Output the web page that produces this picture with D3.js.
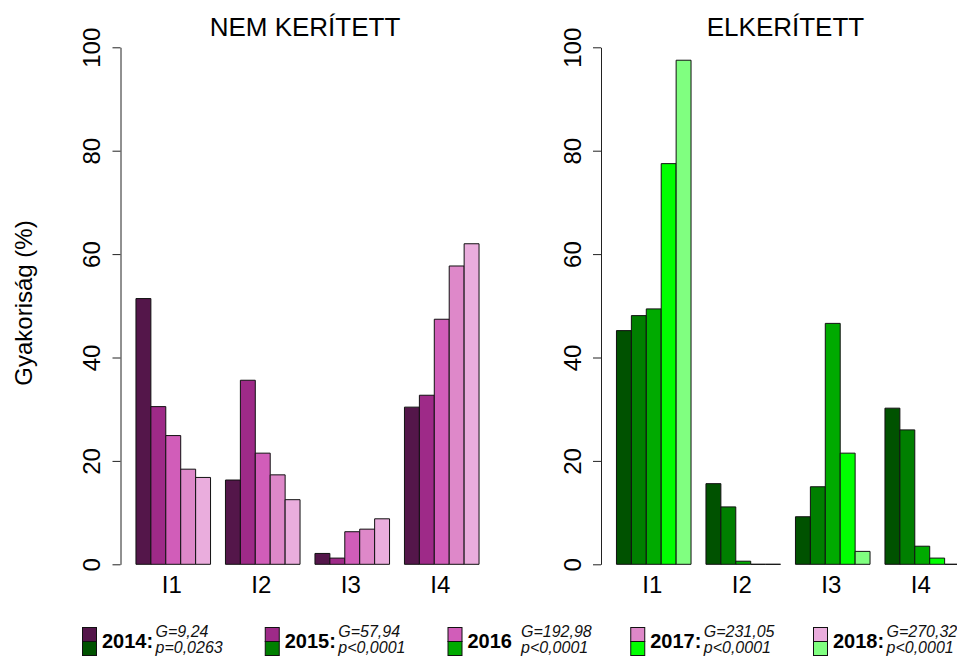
<!DOCTYPE html>
<html>
<head>
<meta charset="utf-8">
<script src="https://cdn.jsdelivr.net/npm/d3@7"></script>
<style>
  html, body { margin: 0; padding: 0; background: #fff; }
  svg { display: block; font-family: "Liberation Sans", Arial, sans-serif; }
</style>
</head>
<body>
<svg id="chart" width="957" height="658"></svg>
<script>
// Categories and years
const categories = ["I1", "I2", "I3", "I4"];
const years = ["2014", "2015", "2016", "2017", "2018"];

// Frequency (%) per year, one value per category (I1..I4)
const nemKeritett2014 = [51.4, 16.3, 2.1, 30.4];
const nemKeritett2015 = [30.5, 35.6, 1.2, 32.7];
const nemKeritett2016 = [24.9, 21.5, 6.3, 47.4];
const nemKeritett2017 = [18.4, 17.3, 6.8, 57.7];
const nemKeritett2018 = [16.8, 12.5, 8.8, 62.0];

const elkeritett2014 = [45.2, 15.6, 9.2, 30.2];
const elkeritett2015 = [48.1, 11.1, 15.0, 26.0];
const elkeritett2016 = [49.4, 0.6, 46.6, 3.5];
const elkeritett2017 = [77.5, 0.0, 21.5, 1.2];
const elkeritett2018 = [97.5, 0.0, 2.5, 0.0];

// Legend statistics
const yearLabels = ["2014:", "2015:", "2016", "2017:", "2018:"];
const gStats = ["G=9,24", "G=57,94", "G=192,98", "G=231,05", "G=270,32"];
const pStats = ["p=0,0263", "p<0,0001", "p<0,0001", "p<0,0001", "p<0,0001"];

const yTicks = [0, 20, 40, 60, 80, 100];

const pinkColors = ["#54164a", "#9e2a88", "#d15db9", "#de88c9", "#eaaddd"];
const greenColors = ["#005200", "#007f00", "#00aa00", "#00ff00", "#80ff80"];

const panels = [
  { title: "NEM KERÍTETT", offset: 0, colors: pinkColors,
    series: [nemKeritett2014, nemKeritett2015, nemKeritett2016, nemKeritett2017, nemKeritett2018] },
  { title: "ELKERÍTETT", offset: 480.5, colors: greenColors,
    series: [elkeritett2014, elkeritett2015, elkeritett2016, elkeritett2017, elkeritett2018] }
];

const svg = d3.select("#chart");

const y = d3.scaleLinear().domain([0, 100]).range([564.3, 47.3]);

panels.forEach(p => {
  const g = svg.append("g").attr("transform", `translate(${p.offset},0)`);

  const x0 = d3.scaleBand().domain(categories)
    .range([128.5, 486.5]).paddingInner(1 / 6).paddingOuter(1 / 12);
  const x1 = d3.scaleBand().domain(years).range([0, x0.bandwidth()]).padding(0);

  // bars (drawn as paths so zero values still show as a line at the baseline)
  const cells = [];
  categories.forEach((c, ci) => {
    years.forEach((yr, yi) => {
      cells.push({ cat: c, year: yr, yi: yi, value: p.series[yi][ci] });
    });
  });

  g.append("g").selectAll("path")
    .data(cells)
    .join("path")
    .attr("d", d => {
      const xa = x0(d.cat) + x1(d.year);
      const xb = xa + x1.bandwidth();
      const y0 = y(0), yv = y(d.value);
      return `M${xa},${y0}H${xb}V${yv}H${xa}Z`;
    })
    .attr("fill", d => p.colors[d.yi])
    .attr("stroke", "#111")
    .attr("stroke-width", 1);

  // y axis
  const axis = d3.axisLeft(y).tickValues(yTicks).tickSize(8).tickSizeOuter(0).tickPadding(0);
  const ax = g.append("g").attr("transform", "translate(120.5,0)").call(axis);
  ax.select(".domain").attr("stroke", "#222").attr("stroke-width", 1);
  ax.selectAll(".tick line").attr("stroke", "#222");
  ax.selectAll(".tick text")
    .attr("transform", "rotate(-90)")
    .attr("x", 0).attr("y", -20.5).attr("dy", 0)
    .attr("text-anchor", "middle")
    .attr("font-size", 24)
    .attr("font-family", "Liberation Sans, Arial, sans-serif")
    .attr("fill", "#000");

  // category labels
  g.append("g").selectAll("text")
    .data(categories)
    .join("text")
    .attr("x", d => x0(d) + x0.bandwidth() / 2 - 1.5)
    .attr("y", 593)
    .attr("text-anchor", "middle")
    .attr("font-size", 24)
    .attr("fill", "#000")
    .text(d => d);

  // panel title
  g.append("text")
    .attr("x", 305)
    .attr("y", 36)
    .attr("text-anchor", "middle")
    .attr("font-size", 26)
    .attr("fill", "#000")
    .text(p.title);
});

// y-axis title
svg.append("text")
  .attr("transform", "translate(32,303) rotate(-90)")
  .attr("text-anchor", "middle")
  .attr("font-size", 24)
  .attr("fill", "#000")
  .text("Gyakoriság (%)");

// legend: pink (top) and green (bottom) swatch per year, with statistics
const lx = d3.scaleLinear().domain([0, years.length - 1]).range([82.5, 813.5]);
const legend = svg.append("g").selectAll("g")
  .data(years)
  .join("g")
  .attr("transform", (d, i) => `translate(${lx(i)},0)`);

legend.append("rect")
  .attr("x", 0).attr("y", 627.5).attr("width", 14).attr("height", 14)
  .attr("fill", (d, i) => pinkColors[i]).attr("stroke", "#111");
legend.append("rect")
  .attr("x", 0).attr("y", 641.5).attr("width", 14).attr("height", 14)
  .attr("fill", (d, i) => greenColors[i]).attr("stroke", "#111");

legend.append("text")
  .attr("x", 19.5).attr("y", 647.7)
  .attr("font-size", 20).attr("font-weight", "bold").attr("fill", "#000")
  .text((d, i) => yearLabels[i]);

legend.append("text")
  .attr("x", 73).attr("y", 637)
  .attr("font-size", 16).attr("font-style", "italic").attr("fill", "#111")
  .text((d, i) => gStats[i]);

legend.append("text")
  .attr("x", 73).attr("y", 652.5)
  .attr("font-size", 16).attr("font-style", "italic").attr("fill", "#111")
  .text((d, i) => pStats[i]);
</script>
</body>
</html>
